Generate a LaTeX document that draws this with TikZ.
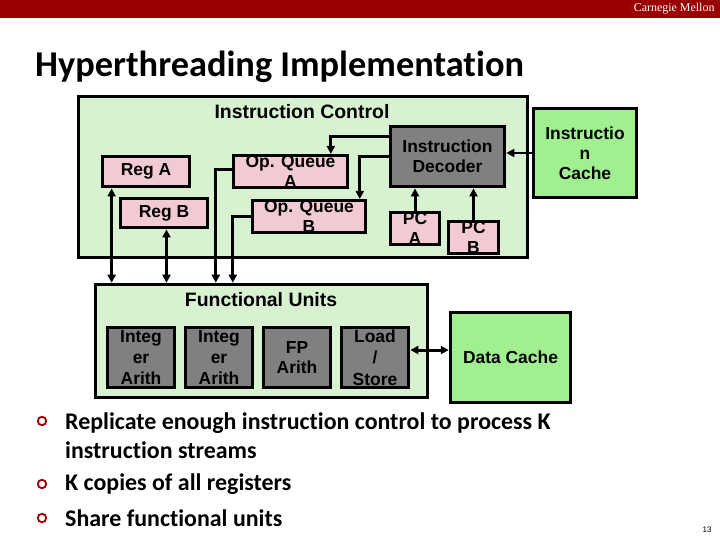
\documentclass[tikz,border=0pt]{standalone}
\usepackage{fontspec}
\setmainfont{Liberation Sans}
\newfontfamily\calfont[Ligatures=NoCommon]{Carlito}
\newfontfamily\serfont{Liberation Serif}
\usetikzlibrary{arrows.meta}
\definecolor{cmured}{HTML}{990000}
\definecolor{icgreen}{HTML}{D8F1D1}
\definecolor{cachegreen}{HTML}{A0F090}
\definecolor{regpink}{HTML}{F2CAD4}
\definecolor{unitgray}{HTML}{808080}
\tikzset{
  blk/.style={draw=black, line width=3pt, inner sep=0pt, align=center,
    font=\bfseries\fontsize{17.5}{20}\selectfont},
  pinkbox/.style={blk, fill=regpink},
  graybox/.style={blk, fill=unitgray},
  cachebox/.style={blk, fill=cachegreen},
  areabox/.style={draw=black, line width=3pt, fill=icgreen, inner sep=0pt},
  arealabel/.style={font=\bfseries\fontsize{19.5}{22}\selectfont},
  wire/.style={line width=3pt, -{Triangle[length=8pt,width=8pt]}},
  dwire/.style={line width=3pt, {Triangle[length=8pt,width=8pt]}-{Triangle[length=8pt,width=8pt]}},
  bulletdot/.style={circle, draw=cmured, line width=1.8pt, minimum size=8.5pt, inner sep=0pt},
  bullettext/.style={anchor=west, inner sep=0pt, align=left, font=\calfont\bfseries\fontsize{24}{29}\selectfont}
}
\begin{document}
\begin{tikzpicture}[x=1bp, y=-1bp]
  \useasboundingbox (0,0) rectangle (720,540);
  % header bar and title
  \fill[cmured] (0,0) rectangle (720,18);
  \node[anchor=east, text=white, font=\serfont\fontsize{12}{13}\selectfont] (brand) at (718,9) {Carnegie Mellon};
  \node[anchor=base west, inner sep=0pt, font=\calfont\bfseries\fontsize{36.5}{40}\selectfont] (title) at (35,77) {Hyperthreading Implementation};

  % Instruction control block
  \node[areabox, minimum width=450, minimum height=162] (ic) at (303,177) {};
  \node[arealabel] (iclabel) at (302,112) {Instruction Control};
  \node[pinkbox, minimum width=88, minimum height=31] (rega) at (146,171.5) {Reg A};
  \node[pinkbox, minimum width=88, minimum height=30] (regb) at (164,213) {Reg B};
  \node[pinkbox, minimum width=115, minimum height=31] (opqa) at (290.5,171.5) {Op. Queue\\A};
  \node[pinkbox, minimum width=114, minimum height=31] (opqb) at (309,216.5) {Op. Queue\\B};
  \node[graybox, minimum width=115, minimum height=61] (dec) at (447.5,156.5) {Instruction\\Decoder};
  \node[pinkbox, minimum width=50, minimum height=31] (pca) at (415,228.5) {PC\\A};
  \node[pinkbox, minimum width=51, minimum height=31] (pcb) at (473.5,237.5) {PC\\B};
  \node[cachebox, minimum width=104, minimum height=90] (icache) at (585,153) {Instructio\\n\\Cache};

  % Functional units block
  \node[areabox, minimum width=333, minimum height=114] (fu) at (261.5,341) {};
  \node[arealabel] (fulabel) at (261,300) {Functional Units};
  \node[graybox, minimum width=68, minimum height=61, font=\bfseries\fontsize{17.5}{21.5}\selectfont] (int1) at (141,357.5) {Integ\\er\\Arith};
  \node[graybox, minimum width=68, minimum height=61, font=\bfseries\fontsize{17.5}{21.5}\selectfont] (int2) at (219,357.5) {Integ\\er\\Arith};
  \node[graybox, minimum width=68, minimum height=61] (fp) at (297,357.5) {FP\\Arith};
  \node[graybox, minimum width=68, minimum height=61, font=\bfseries\fontsize{17.5}{21.5}\selectfont] (ls) at (375,357.5) {Load\\/\\Store};
  \node[cachebox, minimum width=121, minimum height=91] (dcache) at (510.5,357.5) {Data Cache};

  % connectors
  \draw[wire] ([yshift=-12]dec.north west) -| ([xshift=40.5]opqa.north);
  \draw[wire] (dec.west) -| ([xshift=51]opqb.north);
  \draw[wire] (pca.north) -- (pca.north |- dec.south);
  \draw[wire] (pcb.north) -- (pcb.north |- dec.south);
  \draw[wire] (icache.west) -- (icache.west -| dec.east);
  \draw[dwire] ([xshift=11]rega.south west) -- ([xshift=11]rega.south west |- fu.north);
  \draw[dwire] ([xshift=48]regb.south west) -- ([xshift=48]regb.south west |- fu.north);
  \draw[wire] ([yshift=2.5]opqa.west) -| ([xshift=-16]opqa.west |- fu.north);
  \draw[wire] (opqb.west) -| ([xshift=-18]opqb.west |- fu.north);
  \draw[dwire] ([yshift=7.5]ls.east) -- ([yshift=7.5]ls.east -| dcache.west);

  % bullets
  \node[bulletdot] (b1) at (42,421) {};
  \node[bullettext] (t1) at (65,435.5) {Replicate enough instruction control to process K\\instruction streams};
  \node[bulletdot] (b2) at (42,484) {};
  \node[bullettext] (t2) at (65,484) {K copies of all registers};
  \node[bulletdot] (b3) at (42,518) {};
  \node[bullettext] (t3) at (65,518) {Share functional units};

  \node[font=\fontsize{8}{9}\selectfont] (pageno) at (707,530) {13};
\end{tikzpicture}
\end{document}
